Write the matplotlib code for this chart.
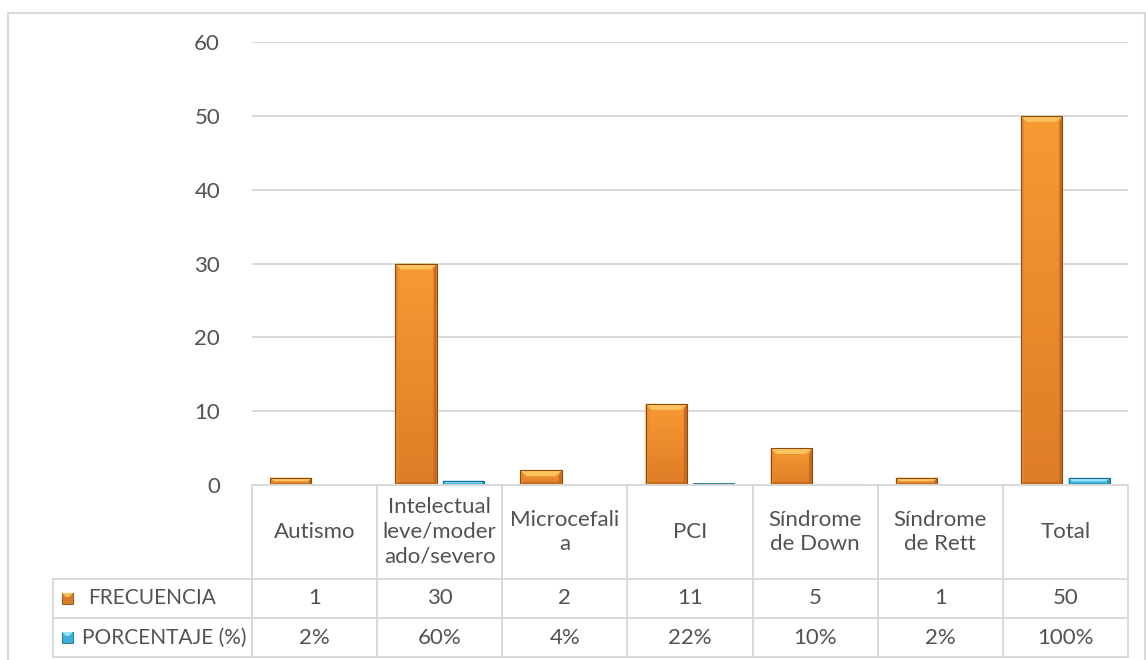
import matplotlib
matplotlib.use("Agg")
import matplotlib.pyplot as plt
from matplotlib.patches import Rectangle, Polygon
from matplotlib.lines import Line2D
import numpy as np

# ---- data -----------------------------------------------------------------
categories = ["Autismo", "Intelectual leve/moderado/severo", "Microcefalia",
              "PCI", "Síndrome de Down", "Síndrome de Rett", "Total"]
category_labels = ["Autismo", "Intelectual\nleve/moder\nado/severo",
                   "Microcefali\na", "PCI", "Síndrome\nde Down",
                   "Síndrome\nde Rett", "Total"]
frecuencia = [1, 30, 2, 11, 5, 1, 50]
porcentaje = [0.02, 0.60, 0.04, 0.22, 0.10, 0.02, 1.00]
frecuencia_labels = ["1", "30", "2", "11", "5", "1", "50"]
porcentaje_labels = ["2%", "60%", "4%", "22%", "10%", "2%", "100%"]
series_names = ["FRECUENCIA", "PORCENTAJE (%)"]
y_ticks = [0, 10, 20, 30, 40, 50, 60]

# ---- styling --------------------------------------------------------------
W, H, DPI = 1146, 660, 100
FONT = "Lato"
TXT = "#525252"
LINE = "#D9D9D9"
FS = 16
FS_HEAD = 15

ORANGE = dict(main_top="#F79A33", main_bot="#DE7D27", edge="#8A4A12",
              light="#FDC35E", side_l="#E9872C", side_r="#C86A1E",
              bottom="#C96B1F")
CYAN = dict(main_top="#5CCBEF", main_bot="#3BAFD8", edge="#1C6E8C",
            light="#9BE3F7", side_l="#47B9E0", side_r="#2E95BA",
            bottom="#2E95BA")

plt.rcParams["font.family"] = [FONT, "DejaVu Sans"]

fig = plt.figure(figsize=(W / DPI, H / DPI), dpi=DPI)


def fx(x):
    return x / W


def fy(y):
    return 1 - y / H


# plot area in pixel coordinates
PL, PR, PT, PB = 252, 1128, 42, 485
ax = fig.add_axes([fx(PL), fy(PB), fx(PR - PL), (PB - PT) / H])
ax.set_xlim(-0.5, len(categories) - 0.5)
ax.set_ylim(0, 60)
ax.set_yticks(y_ticks)
ax.set_xticks([])
for s in ax.spines.values():
    s.set_visible(False)
ax.tick_params(axis="y", length=0, pad=23, labelsize=FS, labelcolor=TXT)
ax.yaxis.grid(True, color=LINE, lw=1.4)
ax.set_axisbelow(True)

x = np.arange(len(categories))
bw, off = 0.33, 0.19

# units per pixel for bevel sizes
ux = (len(categories)) / (PR - PL)
uy = 60 / (PB - PT)


def bevel_bar(rect, c):
    x0, y0 = rect.get_x(), rect.get_y()
    w, h = rect.get_width(), rect.get_height()
    if h <= 0:
        return
    top = y0 + h
    # vertical gradient fill
    grad = np.linspace(0, 1, 64).reshape(-1, 1)
    cmap = matplotlib.colors.LinearSegmentedColormap.from_list(
        "g", [c["main_bot"], c["main_top"]])
    im = ax.imshow(grad, extent=(x0, x0 + w, y0, top), origin="lower",
                   cmap=cmap, aspect="auto", zorder=3)
    im.set_clip_path(rect)
    hpx = h / uy
    b = min(6, hpx / 2)
    bx, by = b * ux, b * uy
    sx = min(3, hpx / 2) * ux
    # side bevels
    ax.add_patch(Polygon([(x0, y0), (x0 + sx, y0 + by * 0.5),
                          (x0 + sx, top - by), (x0, top)],
                         closed=True, fc=c["side_l"], ec="none", zorder=4))
    ax.add_patch(Polygon([(x0 + w, y0), (x0 + w - sx, y0 + by * 0.5),
                          (x0 + w - sx, top - by), (x0 + w, top)],
                         closed=True, fc=c["side_r"], ec="none", zorder=4))
    # bottom bevel
    ax.add_patch(Polygon([(x0, y0), (x0 + w, y0),
                          (x0 + w - sx, y0 + by * 0.5), (x0 + sx, y0 + by * 0.5)],
                         closed=True, fc=c["bottom"], ec="none", zorder=4))
    # top bevel
    ax.add_patch(Polygon([(x0, top), (x0 + w, top),
                          (x0 + w - bx, top - by), (x0 + bx, top - by)],
                         closed=True, fc=c["light"], ec="none", zorder=4))
    ax.add_patch(Rectangle((x0, y0), w, h, fc="none", ec=c["edge"],
                           lw=0.8, zorder=5))


bars_f = ax.bar(x - off, frecuencia, width=bw, color=ORANGE["main_bot"],
                edgecolor="none", zorder=2)
bars_p = ax.bar(x + off, porcentaje, width=bw, color=CYAN["main_bot"],
                edgecolor=CYAN["edge"], lw=0.6, zorder=2)
for r in bars_f:
    bevel_bar(r, ORANGE)
for r in bars_p:
    if r.get_height() / uy > 3:
        bevel_bar(r, CYAN)

# ---- data table beneath the plot ------------------------------------------
n = len(categories)
col_w = (PR - PL) / n
R0, R1, R2, R3 = PB, 579, 618, 657
HL = 53


def hline(x0, x1, y):
    fig.add_artist(Line2D([fx(x0), fx(x1)], [fy(y), fy(y)], color=LINE,
                          lw=1.4, transform=fig.transFigure))


def vline(xp, y0, y1):
    fig.add_artist(Line2D([fx(xp), fx(xp)], [fy(y0), fy(y1)], color=LINE,
                          lw=1.4, transform=fig.transFigure))


hline(PL, PR, R0)
for yy in (R1, R2, R3):
    hline(HL, PR, yy)
for k in range(n + 1):
    vline(PL + k * col_w, R0, R3)
vline(HL, R1, R3)

for i in range(n):
    cx = PL + (i + 0.5) * col_w
    fig.text(fx(cx), fy((R0 + R1) / 2), category_labels[i], ha="center",
             va="center", fontsize=FS, color=TXT, linespacing=1.3)
    fig.text(fx(cx), fy((R1 + R2) / 2), frecuencia_labels[i], ha="center",
             va="center", fontsize=FS, color=TXT)
    fig.text(fx(cx), fy((R2 + R3) / 2), porcentaje_labels[i], ha="center",
             va="center", fontsize=FS, color=TXT)

# legend keys inside the row headers
for (name, c, yc, tx) in [(series_names[0], ORANGE, (R1 + R2) / 2, 88),
                          (series_names[1], CYAN, (R2 + R3) / 2, 82)]:
    ks = 11
    kx0, ky0 = 62, yc - ks / 2
    fig.add_artist(Rectangle((fx(kx0), fy(ky0 + ks)), ks / W, ks / H,
                             fc=c["main_bot"], ec=c["edge"], lw=0.6,
                             transform=fig.transFigure))
    fig.add_artist(Polygon([(fx(kx0), fy(ky0)), (fx(kx0 + ks), fy(ky0)),
                            (fx(kx0 + ks - 4), fy(ky0 + 4)),
                            (fx(kx0 + 4), fy(ky0 + 4))],
                           closed=True, fc=c["light"], ec="none",
                           transform=fig.transFigure))
    fig.text(fx(tx), fy(yc), name, ha="left", va="center", fontsize=FS_HEAD,
             color=TXT)

# chart frame
fig.add_artist(Rectangle((fx(8), fy(H + 20)), (1145 - 8) / W, (H + 20 - 13) / H,
                         fc="none", ec=LINE, lw=1.5,
                         transform=fig.transFigure))

fig.savefig("out.png", dpi=DPI, facecolor="white")
